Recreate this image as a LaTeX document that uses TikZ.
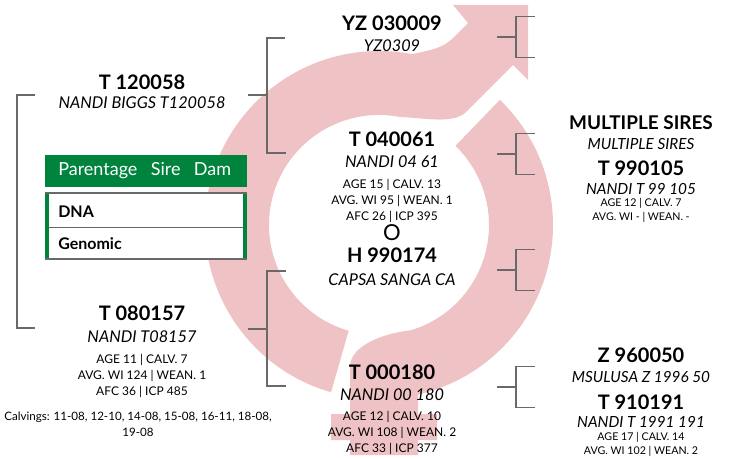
\documentclass[tikz,border=0pt]{standalone}
\usepackage{fontspec}
\setmainfont{Lato}
\usepackage{tikz}
\usetikzlibrary{calc}

\definecolor{ringpink}{RGB}{239,195,197}
\definecolor{tabgreen}{RGB}{0,132,61}
\definecolor{brkgray}{RGB}{105,105,105}

\tikzset{
  brk/.style={draw=brkgray,line width=0.8pt},
  animal/.style={font=\bfseries\fontsize{15}{17}\selectfont,inner sep=0pt},
  regname/.style={font=\itshape\fontsize{12.2}{14}\selectfont,inner sep=0pt},
  rightreg/.style={font=\itshape\fontsize{11.5}{13}\selectfont,inner sep=0pt},
  stats/.style={font=\fontsize{9}{12}\selectfont,align=center,inner sep=0pt},
  smallstats/.style={font=\fontsize{8}{10.5}\selectfont,align=center,inner sep=0pt},
  tabtext/.style={font=\bfseries\fontsize{12}{14}\selectfont,inner sep=0pt,anchor=west},
}

\begin{document}
\begin{tikzpicture}[x=0.75pt,y=-0.75pt]
   \useasboundingbox (0,0) rectangle (742,459);
   \coordinate (c) at (379,225);

   % male half: ring with arrow
   \fill[ringpink] ($(c)+(106:174)$) arc[start angle=106, end angle=281, radius=174]
      .. controls (430,50) and (441,49) .. (452,39) -- (468,23) -- (453,5) -- (528,5)
      -- (528,80) -- (513,65) -- (465,113)
      .. controls (452,124) and (425,118) .. ($(c)+(281:110)$)
      arc[start angle=281, end angle=106, radius=110] -- cycle;
   % female half: ring with cross
   \fill[ringpink] ($(c)+(-46:174)$) arc[start angle=-46, end angle=77, radius=174]
      -- (418,414) -- (437,414) -- (437,440) -- (418,440) -- (418,455) -- (350,455)
      -- (350,440) -- (331,440) -- (331,414) -- (350,414) -- (350,367)
      .. controls (350,345) and (385,333) .. ($(c)+(73:110)$)
      arc[start angle=73, end angle=-46, radius=110] -- cycle;

   % brackets
   \draw[brk] (35,95) -- (17,95) -- (17,328) -- (35,328);
   \draw[brk] (248,95) -- (267,95) (285,38) -- (267,38) -- (267,153) -- (286,153);
   \draw[brk] (248,329) -- (267,329) (286,271) -- (267,271) -- (267,386) -- (286,386);
   \foreach \ym in {37,154,270,387}
      \draw[brk] (497,\ym) -- (516,\ym) (535,\ym-20.5) -- (516,\ym-20.5) -- (516,\ym+20.5) -- (535,\ym+20.5);

   % parentage table
   \fill[tabgreen] (45,155) rectangle (247,187);
   \fill[white] (45,193) rectangle (247,260);
   \node[tabtext,font=\fontsize{13.5}{15}\selectfont,text=white] (head) at (58,171)
      {Parentage\hspace{10pt}Sire\hspace{10pt}Dam};
   \draw[tabgreen,line width=3pt] (47,193) -- (47,260) (245,193) -- (245,260);
   \draw[brkgray,line width=1.5pt] (45,193.5) -- (247,193.5) (45,259) -- (247,259);
   \draw[brkgray,line width=0.6pt] (49,227) -- (243,227);
   \node[tabtext] (dna) at (58,212) {DNA};
   \node[tabtext] (genomic) at (58,244) {Genomic};

   % sire side
   \node[animal] (sire) at (142,82) {T 120058};
   \node[regname] (sirereg) at (142,103) {NANDI BIGGS T120058};
   \node[animal] (ss) at (392,23) {YZ 030009};
   \node[regname] (ssreg) at (392,46) {YZ0309};
   \node[animal] (sd) at (392,139) {T 040061};
   \node[regname] (sdreg) at (392,162) {NANDI 04 61};
   \node[stats] (sdinfo) at (392,201) {AGE 15 | CALV. 13\\AVG. WI 95 | WEAN. 1\\AFC 26 | ICP 395};
   \node[font=\fontsize{16.5}{18}\selectfont,inner sep=0pt] (cross) at (392,233) {O};
   \node[animal] (sdd) at (392,255) {H 990174};
   \node[regname] (sddreg) at (392,280) {CAPSA SANGA CA};

   % dam side
   \node[animal] (dam) at (142,313) {T 080157};
   \node[regname] (damreg) at (142,337) {NANDI T08157};
   \node[stats] (daminfo) at (142,376) {AGE 11 | CALV. 7\\AVG. WI 124 | WEAN. 1\\AFC 36 | ICP 485};
   \node[stats,font=\fontsize{8.7}{12}\selectfont] (calv) at (138,424)
      {Calvings: 11-08, 12-10, 14-08, 15-08, 16-11, 18-08,\\19-08};
   \node[animal] (dd) at (392,372) {T 000180};
   \node[regname] (ddreg) at (392,395) {NANDI 00 180};
   \node[stats] (ddinfo) at (392,433) {AGE 12 | CALV. 10\\AVG. WI 108 | WEAN. 2\\AFC 33 | ICP 377};

   % right column
   \node[animal,font=\bfseries\fontsize{14.2}{17}\selectfont] (multi) at (641,123) {MULTIPLE SIRES};
   \node[rightreg] (multireg) at (641,144) {MULTIPLE SIRES};
   \node[animal] (sdsd) at (641,168) {T 990105};
   \node[rightreg] (sdsdreg) at (641,189) {NANDI T 99 105};
   \node[smallstats] (sdsdinfo) at (641,210.5) {AGE 12 | CALV. 7\\AVG. WI - | WEAN. -};
   \node[animal] (ddsd) at (641,355) {Z 960050};
   \node[rightreg] (ddsdreg) at (641,377) {MSULUSA Z 1996 50};
   \node[animal] (dddd) at (641,402) {T 910191};
   \node[rightreg] (ddddreg) at (641,422) {NANDI T 1991 191};
   \node[smallstats] (ddddinfo) at (641,444) {AGE 17 | CALV. 14\\AVG. WI 102 | WEAN. 2};

  \end{tikzpicture}
\end{document}
